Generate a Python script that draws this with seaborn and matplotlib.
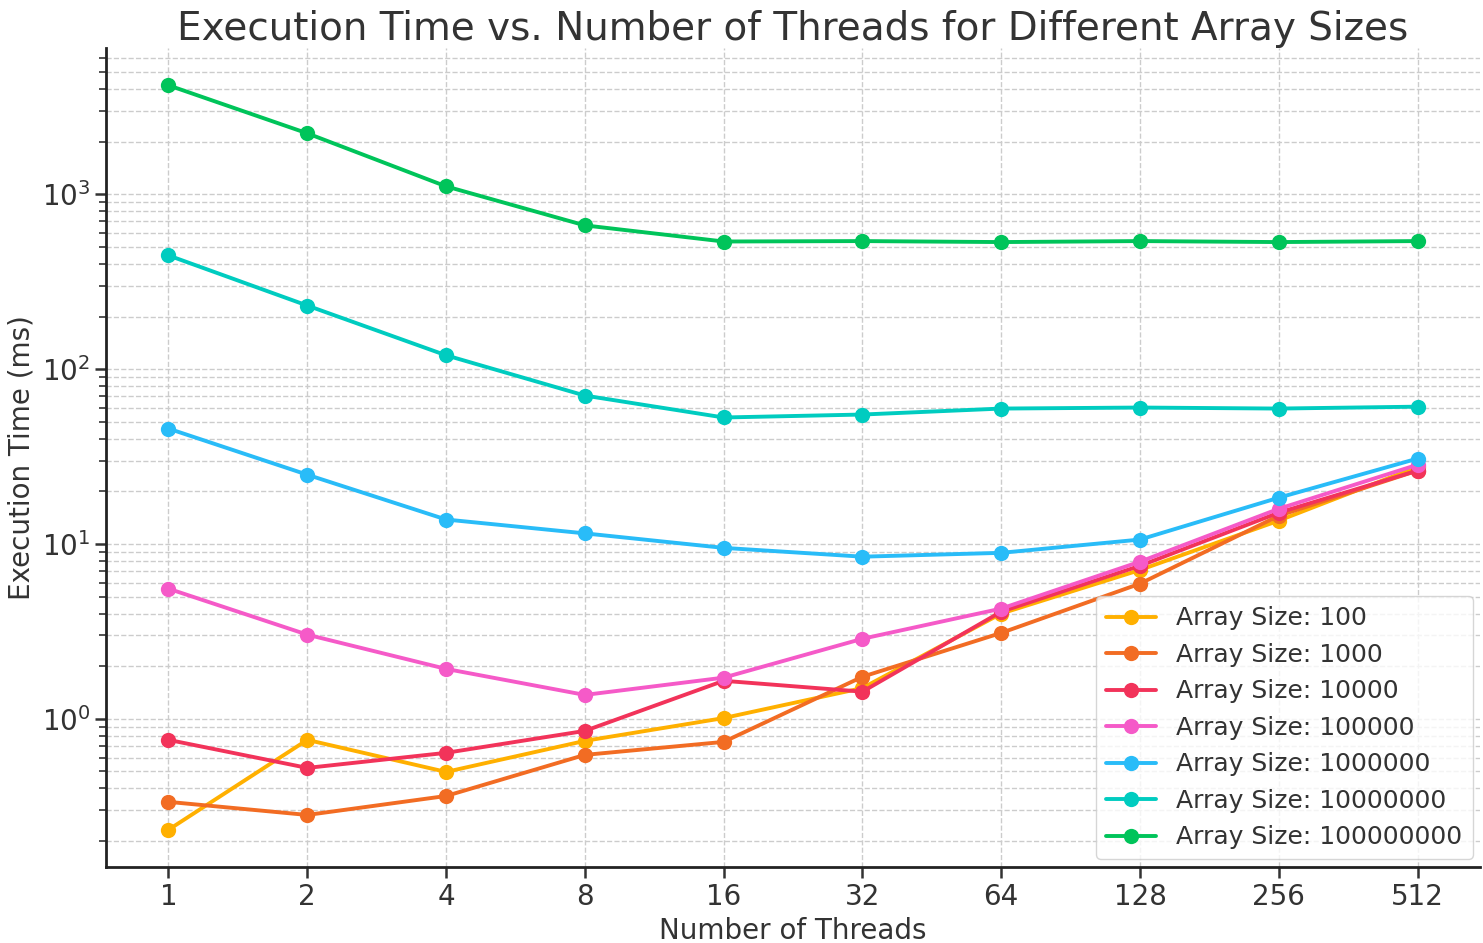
import pandas as pd
import matplotlib.pyplot as plt
import seaborn as sns

threads = [1, 2, 4, 8, 16, 32, 64, 128, 256, 512]
sizes = [100, 1000, 10000, 100000, 1000000, 10000000, 100000000]

# execution time (ms) per array size
t_100 = [0.232, 0.758, 0.497, 0.748, 1.01, 1.5, 4.0, 7.1, 13.6, 27.6]
t_1000 = [0.335, 0.282, 0.362, 0.622, 0.738, 1.74, 3.1, 5.93, 14.5, 26.3]
t_10000 = [0.758, 0.524, 0.639, 0.853, 1.65, 1.43, 4.1, 7.5, 15.1, 26.3]
t_100000 = [5.55, 3.03, 1.93, 1.37, 1.72, 2.87, 4.27, 7.92, 15.9, 28.4]
t_1000000 = [45.7, 24.9, 13.8, 11.5, 9.5, 8.46, 8.9, 10.6, 18.4, 30.8]
t_10000000 = [447, 231, 120, 70.6, 52.9, 55, 59.5, 60.3, 59.5, 61]
t_100000000 = [4200, 2232, 1110, 664, 537, 540, 533, 540, 533, 540]

times = [t_100, t_1000, t_10000, t_100000, t_1000000, t_10000000, t_100000000]
colors = ['#FFB000', '#F26C23', '#F2335A', '#F55AC8', '#29BCF8', '#00CCC0', '#00C45A']

rows = []
for s, ts in zip(sizes, times):
    for th, t in zip(threads, ts):
        rows.append({'threads': th, 'time': t, 'label': f'Array Size: {s}'})
df = pd.DataFrame(rows)

sns.set_style('white')
plt.rcParams['font.family'] = ['DejaVu Sans']
text_c = '#333333'
plt.rcParams['text.color'] = text_c
plt.rcParams['axes.labelcolor'] = text_c
plt.rcParams['xtick.color'] = text_c
plt.rcParams['ytick.color'] = text_c

fig = plt.figure(figsize=(14.83, 9.43), dpi=100)
ax = fig.add_axes([0.0715, 0.0806, 0.9265, 0.8684])

for (lab, sub), c in zip(df.groupby('label', sort=False), colors):
    sns.lineplot(data=sub, x='threads', y='time', ax=ax, color=c, label=lab,
                 marker='o', markersize=11, markeredgewidth=0, linewidth=2.8)

ax.set_xscale('log', base=2)
ax.set_yscale('log')
ax.set_xticks(threads)
ax.set_xticklabels([str(t) for t in threads])
ax.minorticks_on()
ax.xaxis.set_minor_locator(plt.NullLocator())

ax.grid(True, which='major', linestyle='--', color='#cccccc', linewidth=1)
ax.grid(True, which='minor', axis='y', linestyle='--', color='#cccccc', linewidth=1)

for sp in ['top', 'right']:
    ax.spines[sp].set_visible(False)
for sp in ['left', 'bottom']:
    ax.spines[sp].set_color('#222222')
    ax.spines[sp].set_linewidth(2)

ax.tick_params(axis='both', which='major', labelsize=20, length=8, width=1.8,
               direction='out', left=True, bottom=True)
ax.tick_params(axis='y', which='minor', length=5, width=1.2, left=True)

ax.set_title('Execution Time vs. Number of Threads for Different Array Sizes',
             fontsize=28, pad=6)
ax.set_xlabel('Number of Threads', fontsize=20, labelpad=4)
ax.set_ylabel('Execution Time (ms)', fontsize=20)

leg = ax.legend(loc='lower right', fontsize=18, frameon=True, framealpha=0.8,
                edgecolor='#cccccc', fancybox=True, borderaxespad=0.3)
for t in leg.get_texts():
    t.set_color(text_c)

fig.savefig('out.png', dpi=100)
